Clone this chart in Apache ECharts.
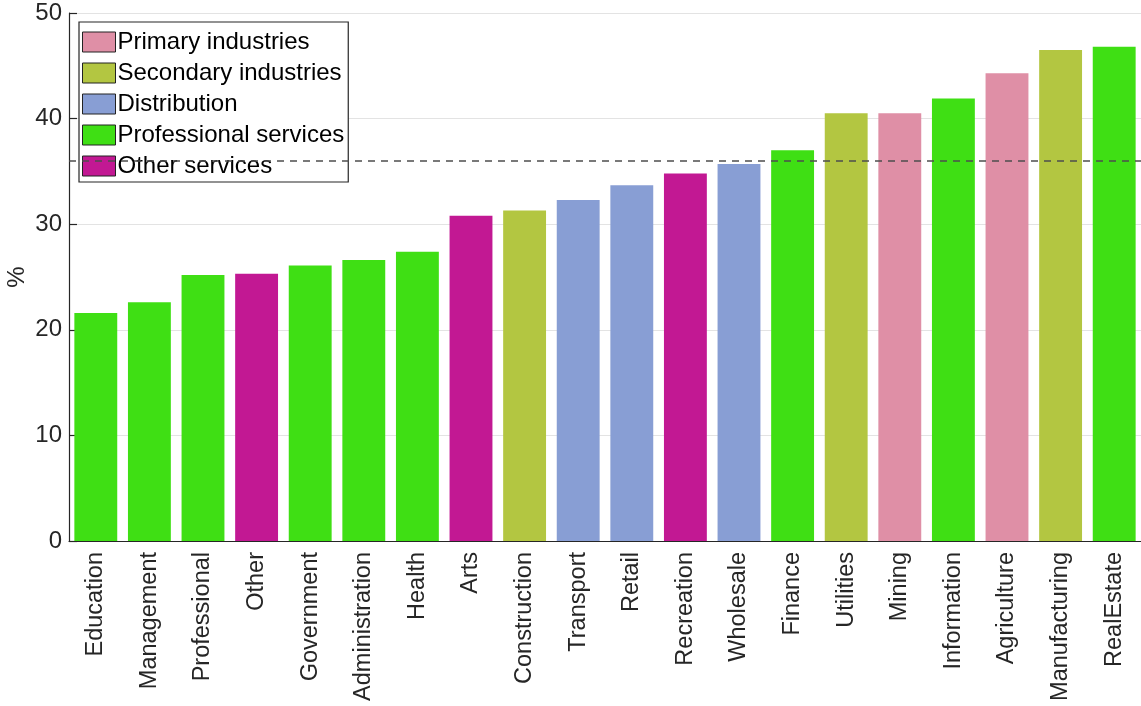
<!DOCTYPE html>
<html>
<head>
<meta charset="utf-8">
<script src="https://cdn.jsdelivr.net/npm/echarts@6/dist/echarts.min.js"></script>
<style>
  html, body { margin: 0; padding: 0; background: #fff; }
  #chart { width: 1141px; height: 706px; }
</style>
</head>
<body>
<div id="chart"></div>
<script>
const industries = ['Education', 'Management', 'Professional', 'Other', 'Government', 'Administration',
  'Health', 'Arts', 'Construction', 'Transport', 'Retail', 'Recreation', 'Wholesale', 'Finance',
  'Utilities', 'Mining', 'Information', 'Agriculture', 'Manufacturing', 'RealEstate']
const shares = [21.6, 22.6, 25.2, 25.3, 26.1, 26.6, 27.4, 30.8, 31.3, 32.3, 33.7, 34.8, 35.7, 37.0,
  40.5, 40.5, 41.9, 44.3, 46.5, 46.8]
// group of each industry (index into groupNames)
const groupOf = [3, 3, 3, 4, 3, 3, 3, 4, 1, 2, 2, 4, 2, 3, 1, 0, 3, 0, 1, 3]
const groupNames = ['Primary industries', 'Secondary industries', 'Distribution', 'Professional services', 'Other services']
const groupColors = ['#df8fa6', '#b3c641', '#889ed4', '#3fdf14', '#c21893']
const averageLine = 36

const textColor = '#262626'
const font = 'Liberation Sans'

const series = groupNames.map((name, g) => {
  const s = {
    name: name,
    type: 'bar',
    barWidth: '80%',
    barGap: '-100%',
    itemStyle: { color: groupColors[g] },
    data: shares.map((v, i) => groupOf[i] === g ? v : null)
  }
  if (g === 0) {
    s.markLine = {
      silent: true,
      symbol: 'none',
      label: { show: false },
      lineStyle: { color: '#4d4d4d', type: [7, 6], width: 1.6 },
      data: [{ yAxis: averageLine }]
    }
  }
  return s
})

const chart = echarts.init(document.getElementById('chart'), null, { renderer: 'canvas' })
chart.setOption({
  animation: false,
  textStyle: { fontFamily: font },
  grid: { left: 69, right: 0, top: 13, bottom: 165, outerBoundsMode: 'none', containLabel: false },
  legend: {
    orient: 'vertical',
    left: 79,
    top: 22,
    padding: [8, 4, 4, 3],
    itemGap: 7,
    itemWidth: 33,
    itemHeight: 20,
    icon: 'rect',
    backgroundColor: '#fff',
    borderColor: textColor,
    borderWidth: 1.2,
    itemStyle: { borderColor: '#222', borderWidth: 1 },
    textStyle: { fontSize: 24, color: '#000', fontFamily: font, padding: [0, 0, 0, -3] },
    data: groupNames
  },
  xAxis: {
    type: 'category',
    data: industries,
    z: 5,
    axisLine: { lineStyle: { color: textColor, width: 1.2 } },
    axisTick: { inside: true, alignWithLabel: true, length: 8, lineStyle: { color: textColor, width: 1.2 } },
    axisLabel: { rotate: 90, fontSize: 23.5, color: textColor, margin: 11, interval: 0 }
  },
  yAxis: {
    type: 'value',
    min: 0,
    max: 50,
    interval: 10,
    name: '%',
    nameLocation: 'middle',
    nameRotate: 90,
    nameGap: 40,
    nameMoveOverlap: false,
    nameTextStyle: { fontSize: 24, color: textColor },
    axisLine: { show: true, lineStyle: { color: textColor, width: 1.2 } },
    axisTick: { show: true, inside: true, length: 8, lineStyle: { color: textColor, width: 1.2 } },
    axisLabel: { fontSize: 24, color: textColor, margin: 7 },
    splitLine: { lineStyle: { color: '#e3e3e3', width: 1.2 } }
  },
  series: series
})
</script>
</body>
</html>
